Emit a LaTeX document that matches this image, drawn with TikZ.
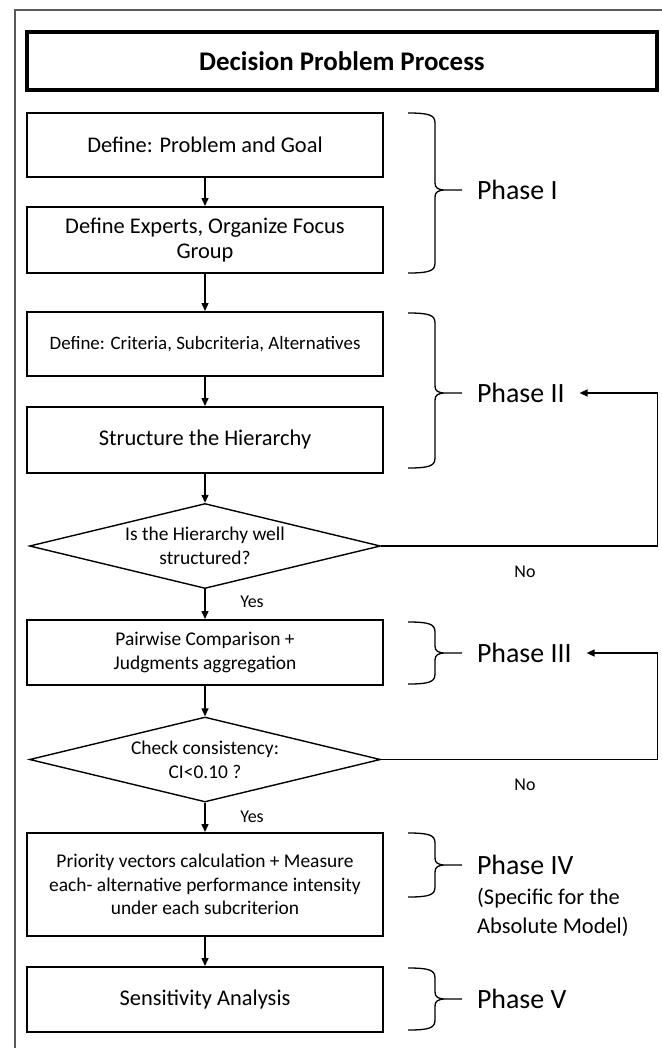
\documentclass[tikz,border=0pt]{standalone}
\usepackage{fontspec}
\setmainfont{Carlito}
\usetikzlibrary{shapes.geometric,arrows.meta}

\begin{document}
\begin{tikzpicture}[x=1bp, y=-1bp,
    stepbox/.style={draw, line width=2bp, minimum width=356bp, align=center, inner sep=2pt},
    question/.style={draw, diamond, line width=1.4bp, minimum width=351bp, minimum height=85bp, aspect=4.1, inner sep=0pt, align=center, font=\fontsize{19.5}{24}\selectfont},
    phase/.style={anchor=west, inner sep=0pt, outer xsep=15bp, font=\fontsize{28}{32}\selectfont},
    flow/.style={-{Triangle[length=8bp,width=7bp]}, line width=1.4bp},
    bracket/.style={line width=1.3bp},
    answer/.style={font=\fontsize{18}{22}\selectfont}]
    \useasboundingbox (0,0) rectangle (662,1048);
    \draw[black!65, line width=1.5bp] (15,1048) -- (15,10) -- (662,10);

    \node[stepbox, line width=4bp, minimum width=630bp, minimum height=58bp, font=\bfseries\fontsize{27}{32}\selectfont] (title) at (342,61) {Decision Problem Process};

    \node[stepbox, minimum height=64bp, font=\fontsize{22.5}{25}\selectfont] (prob) at (205,145) {Define: Problem and Goal};
    \node[stepbox, minimum height=66bp, font=\fontsize{22.5}{25}\selectfont] (expert) at (205,240) {Define Experts, Organize Focus\\Group};
    \node[stepbox, minimum height=64bp, font=\fontsize{19}{23}\selectfont] (crit) at (205,344) {Define: Criteria, Subcriteria, Alternatives};
    \node[stepbox, minimum height=66bp, font=\fontsize{22.5}{25}\selectfont] (hier) at (205,440) {Structure the Hierarchy};
    \node[question] (wellq) at (205,546) {Is the Hierarchy well\\structured?};
    \node[stepbox, minimum height=65bp, font=\fontsize{19.5}{24}\selectfont] (pair) at (205,652.5) {Pairwise Comparison +\\Judgments aggregation};
    \node[question] (consq) at (205,759.5) {Check consistency:\\CI<0.10 ?};
    \node[stepbox, minimum height=103bp, font=\fontsize{19.5}{23.5}\selectfont] (prio) at (205,884.5) {Priority vectors calculation + Measure\\each- alternative performance intensity\\under each subcriterion};
    \node[stepbox, minimum height=65bp, font=\fontsize{22.5}{25}\selectfont] (sens) at (205,999.5) {Sensitivity Analysis};

    \draw[flow] (prob) -- (expert);
    \draw[flow] (expert) -- (crit);
    \draw[flow] (crit) -- (hier);
    \draw[flow] (hier) -- (wellq);
    \draw[flow] (wellq) -- (pair);
    \draw[flow] (pair) -- (consq);
    \draw[flow] (consq) -- (prio);
    \draw[flow] (prio) -- (sens);

    \node[answer] (yes1) at (252,602) {Yes};
    \node[answer] (yes2) at (252,817) {Yes};
    \node[answer] (no1) at (525,572) {No};
    \node[answer] (no2) at (525,785) {No};

    \node[phase] (ph1) at (462,190) {Phase I};
    \node[phase] (ph2) at (462,393) {Phase II};
    \node[phase] (ph3) at (462,653) {Phase III};
    \node[phase] (ph4) at (462,865) {Phase IV};
    \node[phase] (ph5) at (462,999) {Phase V};
    \node[anchor=west, inner sep=0pt, align=left, font=\fontsize{22.5}{29}\selectfont] (ph4note) at (477,912.5) {(Specific for the\\Absolute Model)};

    % braces from the boxes to the phase names
    \foreach \t/\m/\b/\n in {113/190/273/ph1, 313/393/468/ph2, 622/653/684/ph3, 833/865/897/ph4, 968/999/1030/ph5}
        \draw[bracket] (408,\t) .. controls (429,\t) and (435,\t+2) .. (435,\t+10) -- (435,\m-7)
            .. controls (435,\m-2) and (438,\m) .. (446,\m) -- (\n.west)
            (446,\m) .. controls (438,\m) and (435,\m+2) .. (435,\m+7) -- (435,\b-10)
            .. controls (435,\b-2) and (429,\b) .. (408,\b);

    \draw[flow] (wellq.east) -- ++(276,0) |- (ph2.east);
    \draw[flow] (consq.east) -- ++(276,0) |- (ph3.east);
\end{tikzpicture}
\end{document}
